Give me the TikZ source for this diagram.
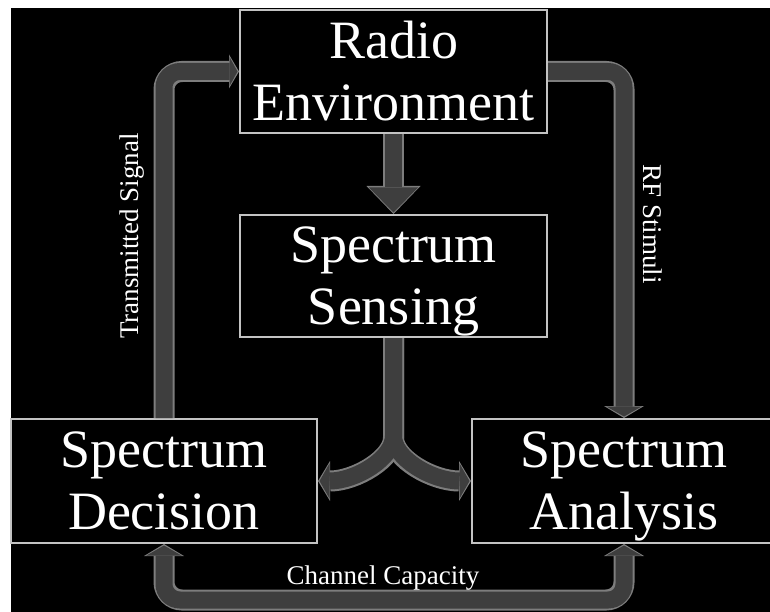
\documentclass[tikz,border=0pt]{standalone}
\usepackage{fontspec}
\setmainfont{Liberation Serif}
\usetikzlibrary{arrows.meta, positioning}

\definecolor{pipefill}{RGB}{62,62,62}
\definecolor{pipeline}{RGB}{125,125,125}
\definecolor{boxline}{RGB}{195,195,195}

\tikzset{
  block/.style={draw=boxline, line width=2pt, text=white, align=center,
    inner sep=0pt, font=\fontsize{54}{62}\selectfont},
  tag/.style={text=white, inner sep=0pt, font=\fontsize{27}{30}\selectfont},
  pipeout/.style={draw=pipeline, line width=21pt, rounded corners=18pt},
  pipein/.style={draw=pipefill, line width=17pt, rounded corners=16pt},
  outhead/.style={-{Triangle[width=40pt,length=12pt,line width=0pt]}},
  inhead/.style={-{Triangle[width=35pt,length=10pt,line width=0pt]}, shorten >=1.5pt},
}

\begin{document}
\begin{tikzpicture}[x=1pt, y=-1pt]
            % page
            \clip (0,0) rectangle (770,612);
            \fill[white] (0,0) rectangle (770,612);
            \fill[black] (11,8) rectangle (770,612);

            % Blocks
            \node[block, minimum width=307pt, minimum height=123pt] (radio) at (393.5,71.5) {Radio\\Environment};
            \node[block, minimum width=307pt, minimum height=122pt] (sensing) at (393.5,276) {Spectrum\\\smash{Sensing}};
            \node[block, minimum width=306pt, minimum height=124pt] (decision) at (164,481) {Spectrum\\Decision};
            \node[block, minimum width=304pt, minimum height=124pt] (analysis) at (624,481) {Spectrum\\\smash{Analysis}};

            % Radio -> Sensing
            \draw[pipeout, -{Triangle[width=54pt,length=28pt,line width=0pt]}] (radio.south) -- (sensing.north);
            \draw[pipein, -{Triangle[width=49pt,length=25pt,line width=0pt]}, shorten >=1.5pt] (radio.south) -- (sensing.north);

            % Decision -> Radio (transmitted signal)
            \draw[pipeout, -{Triangle[width=34pt,length=10pt,line width=0pt]}] (decision.north) |- (radio.west);
            \draw[pipein, -{Triangle[width=29pt,length=8pt,line width=0pt]}, shorten >=1.5pt] (decision.north) |- (radio.west);

            % Radio -> Analysis (RF stimuli)
            \draw[pipeout, outhead] (radio.east) -| (analysis.north);
            \draw[pipein, inhead] (radio.east) -| (analysis.north);

            % Sensing -> Decision / Analysis
            \draw[pipeout, outhead] (sensing.south) -- ++(0,82) to[out=-90,in=0] (decision.east);
            \draw[pipeout, outhead] (sensing.south) -- ++(0,82) to[out=-90,in=180] (analysis.west);
            \draw[pipein, inhead] (sensing.south) -- ++(0,82) to[out=-90,in=0] (decision.east);
            \draw[pipein, inhead] (sensing.south) -- ++(0,82) to[out=-90,in=180] (analysis.west);

            % Decision <-> Analysis (channel capacity)
            \draw[pipeout, {Triangle[width=40pt,length=12pt,line width=0pt]}-{Triangle[width=40pt,length=12pt,line width=0pt]}] (decision.south) -- ++(0,56) -| (analysis.south);
            \draw[pipein, {Triangle[width=35pt,length=10pt,line width=0pt]}-{Triangle[width=35pt,length=10pt,line width=0pt]}, shorten <=1.5pt, shorten >=1.5pt] (decision.south) -- ++(0,56) -| (analysis.south);

            % Labels
            \node[tag, rotate=90] (txlabel) at (132,236) {Transmitted Signal};
            \node[tag, rotate=-90] (rflabel) at (653,224) {RF Stimuli};
            \node[tag] (caplabel) at (383,578) {Channel Capacity};
        \end{tikzpicture}
\end{document}
